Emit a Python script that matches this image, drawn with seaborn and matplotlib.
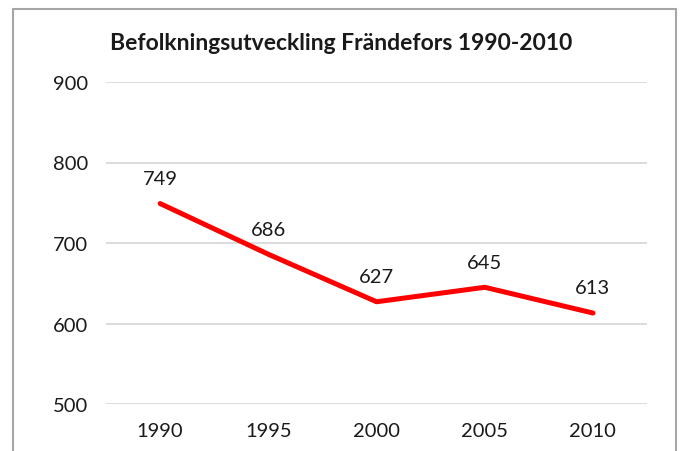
import matplotlib.pyplot as plt
import matplotlib.patches as mpatches
import pandas as pd
import seaborn as sns

years = ['1990', '1995', '2000', '2005', '2010']
population = [749, 686, 627, 645, 613]
yticks = [500, 600, 700, 800, 900]

sns.set_style('white')
plt.rcParams['font.family'] = ['Lato', 'DejaVu Sans']

df = pd.DataFrame({'year': years, 'pop': population})

fig = plt.figure(figsize=(6.83, 4.52), dpi=100)
ax = fig.add_axes([106 / 683, 47 / 452, 541 / 683, 322 / 452])

# gray chart frame (bottom runs off the image)
fig.patches.append(mpatches.Rectangle((13 / 683, -0.05), 663 / 683, 1.05 - 10 / 452,
                                      transform=fig.transFigure, fill=False,
                                      edgecolor='#a6a6a6', linewidth=1.5))

sns.lineplot(data=df, x='year', y='pop', ax=ax, color='#ff0000', linewidth=3.6, sort=False)

for i, v in enumerate(population):
    ax.annotate(str(v), (i, v), xytext=(0, 12), textcoords='offset points',
                ha='center', va='bottom', fontsize=14.5, color='#1a1a1a')

ax.set_xlim(-0.5, len(years) - 0.5)
ax.set_ylim(500, 900)
ax.set_yticks(yticks)
ax.yaxis.grid(True, color='#d9d9d9', linewidth=1.3)
ax.set_axisbelow(True)
for s in ax.spines.values():
    s.set_visible(False)
ax.tick_params(axis='both', length=0, labelsize=14.5, labelcolor='#1a1a1a')
ax.tick_params(axis='y', pad=13)
ax.tick_params(axis='x', pad=13)
ax.set_xlabel('')
ax.set_ylabel('')

fig.text(110 / 683, 1 - 44 / 452, 'Befolkningsutveckling Frändefors 1990-2010',
         fontsize=16.5, fontweight='bold', ha='left', va='center', color='#1a1a1a')

fig.savefig('out.png', dpi=100)
